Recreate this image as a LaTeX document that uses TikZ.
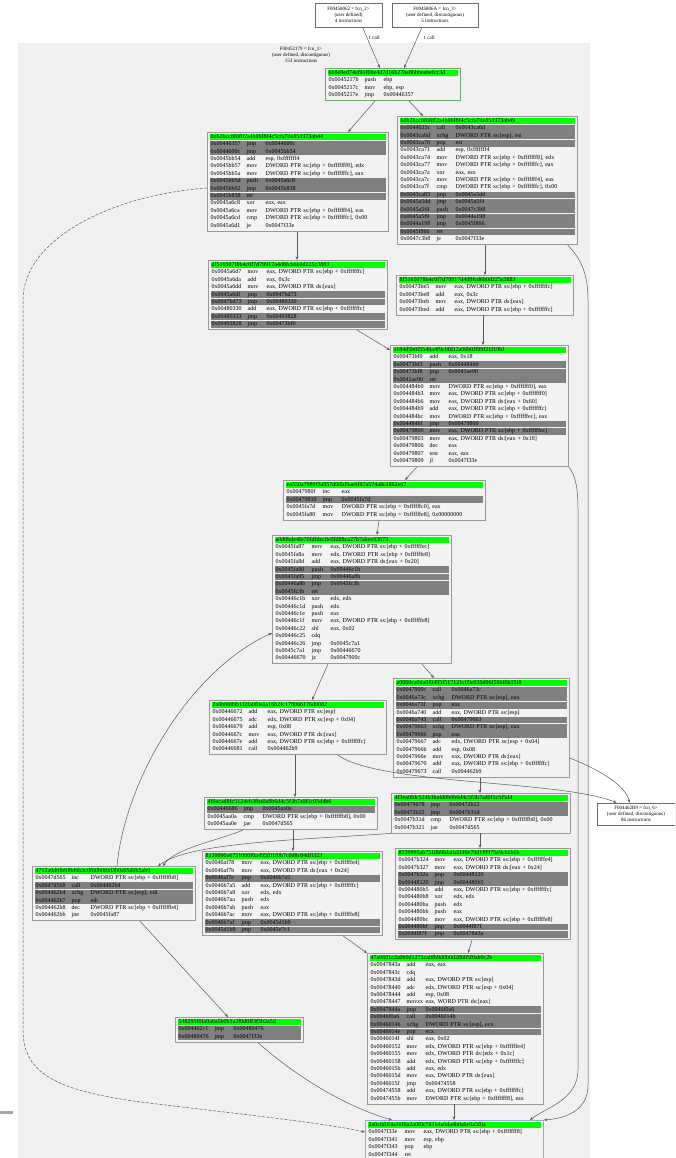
\documentclass[tikz,border=0pt]{standalone}
\usepackage{fontspec}
\setmainfont{Liberation Serif}
\usetikzlibrary{calc,arrows.meta}
\definecolor{clbg}{HTML}{F0F0F0}
\definecolor{boxbg}{HTML}{F3F3F3}
\definecolor{hdrgreen}{HTML}{00FF00}
\definecolor{darkfill}{HTML}{808080}
\definecolor{boxline}{HTML}{999999}
\definecolor{edgecol}{HTML}{5A5A5A}
\definecolor{exitline}{HTML}{A0A0E8}
\definecolor{entryline}{HTML}{70A870}
\newcommand\rowfont{\fontsize{6}{7}\selectfont}
\newcommand\extfont{\fontsize{5}{6}\selectfont}
\newcommand\ins[3]{\mbox{\makebox[36pt][l]{#1}\makebox[19pt][l]{#2}#3}}
\newcommand\eb[1]{DWORD PTR ss:[ebp + 0x#1]}
\newcommand\blk[6][]{%
  \node[blkbox,#1,anchor=north west,minimum width={(#5-#3)*1pt},minimum height={(10+#6*7.4)*1pt}] (#2) at (#3,#4) {};
  \def\curn{#2}\def\curx{#3}\def\cury{#4}\pgfmathsetmacro\curw{#5-#3-7}}
\newcommand\hd[1]{\node[hln,text width=\curw pt] (\curn-h) at (\curx+2.5,\cury+5) {#1};}
\newcommand\rw[5]{\node[#2ln,text width=\curw pt] (\curn-r#1) at (\curx+2.5,\cury+5+#1*7.4) {\ins{#3}{#4}{#5}};}
\begin{document}
\begin{tikzpicture}[x=1pt,y=-1pt,
  blkbox/.style={draw=boxline,fill=boxbg,line width=0.8pt,inner sep=0pt},
  lnbase/.style={anchor=west,inner xsep=1pt,inner ysep=0pt,minimum height=6.8pt,text height=4.2pt,text depth=1.4pt,font=\rowfont,align=left},
  hln/.style={lnbase,fill=hdrgreen},
  dln/.style={lnbase,fill=darkfill},
  nln/.style={lnbase},
  extbox/.style={draw=boxline!70!black,fill=white,line width=0.6pt,align=center,font=\extfont,inner sep=1pt},
  lbl/.style={font=\extfont,inner sep=0.5pt},
  conn/.style={draw=edgecol,line width=0.5pt,-{Stealth[length=3.5pt,width=2.8pt]}}]
\useasboundingbox (0,0) rectangle (675,1158);
\clip (0,0) rectangle (675,1158);
\fill[white] (0,0) rectangle (675,1158);
\fill[clbg] (18,43) rectangle (590,1170);
\fill[gray!70] (0,1111) rectangle (13,1113.5);

\node[lbl,align=center] (cl) at (301,55) {F00452179 = fcn\_1>\\(user defined, discontiguous)\\153 instructions};
\node[extbox,minimum width=67pt,minimum height=24pt] (E1) at (348.5,15) {F00458062 = fcn\_2>\\(user defined)\\4 instructions};
\node[extbox,minimum width=86pt,minimum height=24pt] (E2) at (435,15) {F0045806A = fcn\_3>\\(user defined, discontiguous)\\5 instructions};
\node[extbox,minimum width=78pt,minimum height=22pt] (K) at (636,814) {F004462B9 = fcn\_6>\\(user defined, discontiguous)\\86 instructions};

\blk[draw=entryline]{A}{325}{68}{460}{3}
\hd{6b8e0ed74ef91f6be4d7d16b27be8bbbeabefcc3d}
\rw{1}{n}{0x0045217b}{push}{ebp}
\rw{2}{n}{0x0045217c}{mov}{ebp, esp}
\rw{3}{n}{0x0045217e}{jmp}{0x00446357}

\blk{B}{207}{132}{388}{12}
\hd{0d62bcc8f0f02a4b06f8f4c5cfa7de85d373ab44}
\rw{1}{d}{0x00446357}{jmp}{0x0044600c}
\rw{2}{d}{0x0044600c}{jmp}{0x0045bb54}
\rw{3}{n}{0x0045bb54}{add}{esp, 0xfffffff4}
\rw{4}{n}{0x0045bb57}{mov}{\eb{fffffff8}, edx}
\rw{5}{n}{0x0045bb5a}{mov}{\eb{fffffffc}, eax}
\rw{6}{d}{0x0045bb5d}{push}{0x0045a6c8}
\rw{7}{d}{0x0045bb62}{jmp}{0x0045b838}
\rw{8}{d}{0x0045b838}{ret}{}
\rw{9}{n}{0x0045a6c8}{xor}{eax, eax}
\rw{10}{n}{0x0045a6ca}{mov}{\eb{fffffff4}, eax}
\rw{11}{n}{0x0045a6cd}{cmp}{\eb{fffffffc}, 0x00}
\rw{12}{n}{0x0045a6d1}{je}{0x0047f33e}

\blk{C}{397}{116}{577}{16}
\hd{0db2bcc8f0f8f2a4b06f8f4c5cfa7de85d373ab49}
\rw{1}{d}{0x0044635c}{call}{0x0043ca6d}
\rw{2}{d}{0x0043ca6d}{xchg}{DWORD PTR ss:[esp], esi}
\rw{3}{d}{0x0043ca70}{pop}{esi}
\rw{4}{n}{0x0043ca71}{add}{esp, 0xfffffff4}
\rw{5}{n}{0x0043ca74}{mov}{\eb{fffffff8}, edx}
\rw{6}{n}{0x0043ca77}{mov}{\eb{fffffffc}, eax}
\rw{7}{n}{0x0043ca7a}{xor}{eax, eax}
\rw{8}{n}{0x0043ca7c}{mov}{\eb{fffffff4}, eax}
\rw{9}{n}{0x0043ca7f}{cmp}{\eb{fffffffc}, 0x00}
\rw{10}{d}{0x0043ca83}{jmp}{0x0045a5dd}
\rw{11}{d}{0x0045a5dd}{jmp}{0x0045a5f4}
\rw{12}{d}{0x0045a5f4}{push}{0x0047c3b8}
\rw{13}{d}{0x0045a5f9}{jmp}{0x0044a198}
\rw{14}{d}{0x0044a198}{jmp}{0x0045f866}
\rw{15}{d}{0x0045f866}{ret}{}
\rw{16}{n}{0x0047c3b8}{je}{0x0047f33e}

\blk{D}{208}{260}{387}{8}
\hd{df516507f8b4c0f7d79917a4d8fcb6b0d225c3883}
\rw{1}{n}{0x0045a6d7}{mov}{eax, \eb{fffffffc}}
\rw{2}{n}{0x0045a6da}{add}{eax, 0x3c}
\rw{3}{n}{0x0045a6dd}{mov}{eax, DWORD PTR ds:[eax]}
\rw{4}{d}{0x0045a6df}{jmp}{0x0047bd73}
\rw{5}{d}{0x0047bd73}{jmp}{0x00480330}
\rw{6}{n}{0x00480330}{add}{eax, \eb{fffffffc}}
\rw{7}{d}{0x00480333}{jmp}{0x00493828}
\rw{8}{d}{0x00493828}{jmp}{0x00473bf0}

\blk{E}{396}{275}{573}{4}
\hd{8f5165078b4c0f7d79917d4d8fcd6b0d225e3883}
\rw{1}{n}{0x00473be5}{mov}{eax, \eb{fffffffc}}
\rw{2}{n}{0x00473be8}{add}{eax, 0x3c}
\rw{3}{n}{0x00473beb}{mov}{eax, DWORD PTR ds:[eax]}
\rw{4}{n}{0x00473bed}{add}{eax, \eb{fffffffc}}

\blk{F}{390}{345}{568}{15}
\hd{1184d5b0f5540a4f9c0fd12a00b0ff99f21f19bf}
\rw{1}{n}{0x00473bf0}{add}{eax, 0x18}
\rw{2}{d}{0x00473bf3}{push}{0x004484b0}
\rw{3}{d}{0x00473bf8}{jmp}{0x0041ae90}
\rw{4}{d}{0x0041ae90}{ret}{}
\rw{5}{n}{0x004484b0}{mov}{\eb{fffffff0}, eax}
\rw{6}{n}{0x004484b3}{mov}{eax, \eb{fffffff0}}
\rw{7}{n}{0x004484b6}{mov}{eax, DWORD PTR ds:[eax + 0x60]}
\rw{8}{n}{0x004484b9}{add}{eax, \eb{fffffffc}}
\rw{9}{n}{0x004484bc}{mov}{\eb{ffffffec}, eax}
\rw{10}{d}{0x004484bf}{jmp}{0x00479800}
\rw{11}{d}{0x00479800}{mov}{eax, \eb{ffffffec}}
\rw{12}{n}{0x00479803}{mov}{eax, DWORD PTR ds:[eax + 0x18]}
\rw{13}{n}{0x00479806}{dec}{eax}
\rw{14}{n}{0x00479807}{test}{eax, eax}
\rw{15}{n}{0x00479809}{jl}{0x0047f33e}

\blk{G}{283}{480}{485}{4}
\hd{ea550a7980f5a957d00bf9ae0f97a574a8c4862e67}
\rw{1}{n}{0x0047980f}{inc}{eax}
\rw{2}{d}{0x00479810}{jmp}{0x0045fa7d}
\rw{3}{n}{0x0045fa7d}{mov}{\eb{ffffffc0}, eax}
\rw{4}{n}{0x0045fa80}{mov}{\eb{ffffffe8}, 0x00000000}

\blk{H}{272}{535}{451}{16}
\hd{a0d0bde4fe70fdfdec0e0fd88ca27b7abee93673}
\rw{1}{n}{0x0045fa87}{mov}{eax, \eb{ffffffec}}
\rw{2}{n}{0x0045fa8a}{mov}{edx, \eb{ffffffe8}}
\rw{3}{n}{0x0045fa8d}{add}{eax, DWORD PTR ds:[eax + 0x20]}
\rw{4}{d}{0x0045fa90}{push}{0x00446c1b}
\rw{5}{d}{0x0045fa95}{jmp}{0x00446a8b}
\rw{6}{d}{0x00446a8b}{jmp}{0x0045fc3b}
\rw{7}{d}{0x0045fc3b}{ret}{}
\rw{8}{n}{0x00446c1b}{xor}{edx, edx}
\rw{9}{n}{0x00446c1d}{push}{edx}
\rw{10}{n}{0x00446c1e}{push}{eax}
\rw{11}{n}{0x00446c1f}{mov}{eax, \eb{ffffffe8}}
\rw{12}{n}{0x00446c22}{shl}{eax, 0x02}
\rw{13}{n}{0x00446c25}{cdq}{}
\rw{14}{n}{0x00446c26}{jmp}{0x0045c7a1}
\rw{15}{n}{0x0045c7a1}{jmp}{0x00446670}
\rw{16}{n}{0x00446670}{jz}{0x0047900c}

\blk{I}{209}{700}{386}{6}
\hd{2a0b6689b1f2fa0f0e1a16b2fc178006176d0082}
\rw{1}{n}{0x00446672}{add}{eax, DWORD PTR ss:[esp]}
\rw{2}{n}{0x00446675}{adc}{edx, DWORD PTR ss:[esp + 0x04]}
\rw{3}{n}{0x00446679}{add}{esp, 0x08}
\rw{4}{n}{0x0044667c}{mov}{eax, DWORD PTR ds:[eax]}
\rw{5}{n}{0x0044667e}{add}{eax, \eb{fffffffc}}
\rw{6}{n}{0x00446681}{call}{0x004462b9}

\blk{J}{393}{678}{569}{12}
\hd{a0060ca0da0f0495f517121c09e030d96f596f0b15f8}
\rw{1}{d}{0x0047900c}{call}{0x0046a73c}
\rw{2}{d}{0x0046a73c}{xchg}{DWORD PTR ss:[esp], eax}
\rw{3}{d}{0x0046a73f}{pop}{eax}
\rw{4}{n}{0x0046a740}{add}{eax, DWORD PTR ss:[esp]}
\rw{5}{d}{0x0046a743}{call}{0x00479663}
\rw{6}{d}{0x00479663}{xchg}{DWORD PTR ss:[esp], eax}
\rw{7}{d}{0x00479666}{pop}{eax}
\rw{8}{n}{0x00479667}{adc}{edx, DWORD PTR ss:[esp + 0x04]}
\rw{9}{n}{0x0047966b}{add}{esp, 0x08}
\rw{10}{n}{0x0047966e}{mov}{eax, DWORD PTR ds:[eax]}
\rw{11}{n}{0x00479670}{add}{eax, \eb{fffffffc}}
\rw{12}{n}{0x00479673}{call}{0x004462b9}

\blk{L}{204}{797}{377}{3}
\hd{4f0acad8fc5124eb3fba0a8b6d4c5f3b7a0f1c05d4b6}
\rw{1}{d}{0x00446686}{jmp}{0x0045aa0a}
\rw{2}{n}{0x0045aa0a}{cmp}{\eb{ffffffb8}, 0x00}
\rw{3}{n}{0x0045aa0e}{jae}{0x0047d565}

\blk{M}{391}{793}{570}{4}
\hd{4f3ea0fdc524b3bafd0b0b6d4c5f3b7ad0f1c5f5d4}
\rw{1}{d}{0x00479678}{jmp}{0x00472b22}
\rw{2}{d}{0x00472b22}{jmp}{0x0047b31d}
\rw{3}{n}{0x0047b31d}{cmp}{\eb{ffffffb8}, 0x00}
\rw{4}{n}{0x0047b321}{jae}{0x0047d565}

\blk{N}{202}{851}{382}{10}
\hd{8120090a6751060f0a495f01f0b7c0d8c04df1f23}
\rw{1}{n}{0x0046af78}{mov}{eax, \eb{ffffffe4}}
\rw{2}{n}{0x0046af7b}{mov}{eax, DWORD PTR ds:[eax + 0x24]}
\rw{3}{d}{0x0046af7e}{jmp}{0x0046b7a5}
\rw{4}{n}{0x0046b7a5}{add}{eax, \eb{fffffffc}}
\rw{5}{n}{0x0046b7a8}{xor}{edx, edx}
\rw{6}{n}{0x0046b7aa}{push}{edx}
\rw{7}{n}{0x0046b7ab}{push}{eax}
\rw{8}{n}{0x0046b7ac}{mov}{eax, \eb{ffffffe8}}
\rw{9}{d}{0x0046b7af}{jmp}{0x0045d1b9}
\rw{10}{d}{0x0045d1b9}{jmp}{0x0045e7c1}

\blk{O}{395}{848}{570}{11}
\hd{8220995ab7510b9bfa0a5f49e70d1f0975e9cb6b0b}
\rw{1}{n}{0x0047b324}{mov}{eax, \eb{ffffffe4}}
\rw{2}{n}{0x0047b327}{mov}{eax, DWORD PTR ds:[eax + 0x24]}
\rw{3}{d}{0x0047b32a}{jmp}{0x00448120}
\rw{4}{d}{0x00448120}{jmp}{0x004480b5}
\rw{5}{n}{0x004480b5}{add}{eax, \eb{fffffffc}}
\rw{6}{n}{0x004480b8}{xor}{edx, edx}
\rw{7}{n}{0x004480ba}{push}{edx}
\rw{8}{n}{0x004480bb}{push}{eax}
\rw{9}{n}{0x004480bc}{mov}{eax, \eb{ffffffe8}}
\rw{10}{d}{0x004480bf}{jmp}{0x0044f87f}
\rw{11}{d}{0x0044f87f}{jmp}{0x0047843a}

\blk{P}{32}{866}{195}{6}
\hd{4712a0d0fb6f0d6b3c0f60b0f0d3b0a05d0b5ab0}
\rw{1}{n}{0x0047d565}{inc}{\eb{ffffffb8}}
\rw{2}{d}{0x0047d568}{call}{0x004462b4}
\rw{3}{d}{0x004462b4}{xchg}{DWORD PTR ss:[esp], edi}
\rw{4}{d}{0x004462b7}{pop}{edi}
\rw{5}{n}{0x004462b8}{dec}{\eb{ffffffb4}}
\rw{6}{n}{0x004462bb}{jne}{0x0045fa87}

\blk{Q}{175}{1017}{303}{2}
\hd{548295f0fa0a6a5b0b1a2f0d0ff3f5b2a5d}
\rw{1}{d}{0x004462c1}{jmp}{0x00480476}
\rw{2}{d}{0x00480476}{jmp}{0x0047f33e}

\blk{R}{367}{953}{543}{19}
\hd{47a0691c2a0b0d1271ca0fb9d0b0d28605f0ab0c2b}
\rw{1}{n}{0x0047843a}{add}{eax, eax}
\rw{2}{n}{0x0047843c}{cdq}{}
\rw{3}{n}{0x0047843d}{add}{eax, DWORD PTR ss:[esp]}
\rw{4}{n}{0x00478440}{adc}{edx, DWORD PTR ss:[esp + 0x04]}
\rw{5}{n}{0x00478444}{add}{esp, 0x08}
\rw{6}{n}{0x00478447}{movzx}{eax, WORD PTR ds:[eax]}
\rw{7}{d}{0x0047844a}{jmp}{0x0046f0a6}
\rw{8}{d}{0x0046f0a6}{call}{0x0046014b}
\rw{9}{d}{0x0046014b}{xchg}{DWORD PTR ss:[esp], ecx}
\rw{10}{d}{0x0046014e}{pop}{ecx}
\rw{11}{n}{0x0046014f}{shl}{eax, 0x02}
\rw{12}{n}{0x00460152}{mov}{edx, \eb{ffffffe4}}
\rw{13}{n}{0x00460155}{mov}{edx, DWORD PTR ds:[edx + 0x1c]}
\rw{14}{n}{0x00460158}{add}{edx, \eb{fffffffc}}
\rw{15}{n}{0x0046015b}{add}{eax, edx}
\rw{16}{n}{0x0046015d}{mov}{eax, DWORD PTR ds:[eax]}
\rw{17}{n}{0x0046015f}{jmp}{0x00474558}
\rw{18}{n}{0x00474558}{add}{eax, \eb{fffffffc}}
\rw{19}{n}{0x0047455b}{mov}{\eb{fffffff8}, eax}

\blk[draw=exitline]{S}{365}{1120}{543}{4}
\hd{2a0c6f0f4a10f0a2a0f0c7d1b4a0da4b0a6e0a5f0a}
\rw{1}{n}{0x0047f33e}{mov}{eax, \eb{fffffff8}}
\rw{2}{n}{0x0047f341}{mov}{esp, ebp}
\rw{3}{n}{0x0047f343}{pop}{ebp}
\rw{4}{n}{0x0047f344}{ret}{}

% connectors
\draw[conn] ($(E1.south)+(14,0)$) -- ($(A.north west)+(55,0)$);
\draw[conn] ($(E2.south)+(-13,0)$) -- ($(A.north west)+(79,0)$);
\node[lbl,anchor=west] (l1) at (368,38) {1 call};
\node[lbl,anchor=west] (l2) at (423,38) {1 call};
\draw[conn] ($(A.south west)+(50,0)$) -- ($(B.north west)+(141,0)$);
\draw[conn] ($(A.south west)+(84,0)$) -- ($(C.north west)+(26,0)$);
\draw[conn] ($(B.south west)+(90,0)$) -- ($(D.north west)+(89,0)$);
\draw[conn] ($(C.south west)+(88,0)$) -- ($(E.north west)+(89,0)$);
\draw[conn] ($(D.south west)+(149,0)$) -- ($(F.north west)+(0,5)$);
\draw[conn] ($(E.south west)+(87,0)$) -- ($(F.north west)+(93,0)$);
\draw[conn] ($(F.south west)+(27,0)$) -- ($(G.north west)+(122,0)$);
\draw[conn] ($(G.south west)+(96,0)$) -- ($(H.north west)+(105,0)$);
\draw[conn] ($(H.south west)+(56,0)$) -- ($(I.north west)+(103,0)$);
\draw[conn] ($(H.south west)+(150,0)$) -- ($(J.north west)+(41,0)$);
\draw[conn] ($(I.south west)+(86,0)$) -- ($(L.north west)+(91,0)$);
\draw[conn] ($(J.south west)+(87,0)$) -- ($(M.north west)+(89,0)$);
\draw[conn] ($(L.south west)+(89,0)$) -- ($(N.north west)+(91,0)$);
\draw[conn] ($(M.south west)+(89,0)$) -- ($(O.north west)+(85,0)$);
\draw[conn] ($(N.south west)+(141,0)$) -- (R.north west);
\draw[conn] ($(O.south west)+(77,0)$) -- ($(R.north west)+(101,0)$);
\draw[conn] ($(R.south west)+(87,0)$) -- ($(S.north west)+(89,0)$);
\draw[conn] ($(P.south west)+(108,0)$) -- ($(Q.north west)+(53,0)$);
\draw[conn] ($(Q.south west)+(83,0)$) .. controls (300,1080) and (350,1108) .. ($(S.north west)+(27,0)$);
\draw[conn] ($(I.south west)+(129,0)$) .. controls (380,785) and (560,780) .. ($(K.north west)+(20,0)$);
\draw[conn] ($(J.north east)+(0,80)$) .. controls (600,770) and (625,785) .. ($(K.north west)+(33,0)$);
\draw[conn] ($(L.south west)+(39,0)$) .. controls (220,840) and (175,848) .. ($(P.north west)+(131,0)$);
\draw[conn] (M.south west) .. controls (300,840) and (190,842) .. ($(P.north west)+(126,0)$);
\draw[conn] ($(P.north west)+(85,0)$) .. controls (125,780) and (190,670) .. ($(H.north west)+(0,98)$);
\draw[conn] ($(C.south east)+(-10,0)$) .. controls (580,258) and (588,272) .. (588,300) -- (588,1085) .. controls (588,1108) and (570,1118) .. (S.north east);
\draw[conn] (F.south east) .. controls (576,476) and (578,490) .. (578,510) -- (578,1070) .. controls (578,1100) and (545,1108) .. ($(S.north west)+(165,0)$);
\draw[conn,dash pattern=on 3pt off 1.5pt] ($(B.north west)+(0,56)$) .. controls (110,195) and (23,240) .. (23,300) -- (23,1030) .. controls (23,1075) and (60,1090) .. (133,1101) .. controls (220,1112) and (320,1122) .. ($(S.north west)+(0,12)$);
\end{tikzpicture}
\end{document}
